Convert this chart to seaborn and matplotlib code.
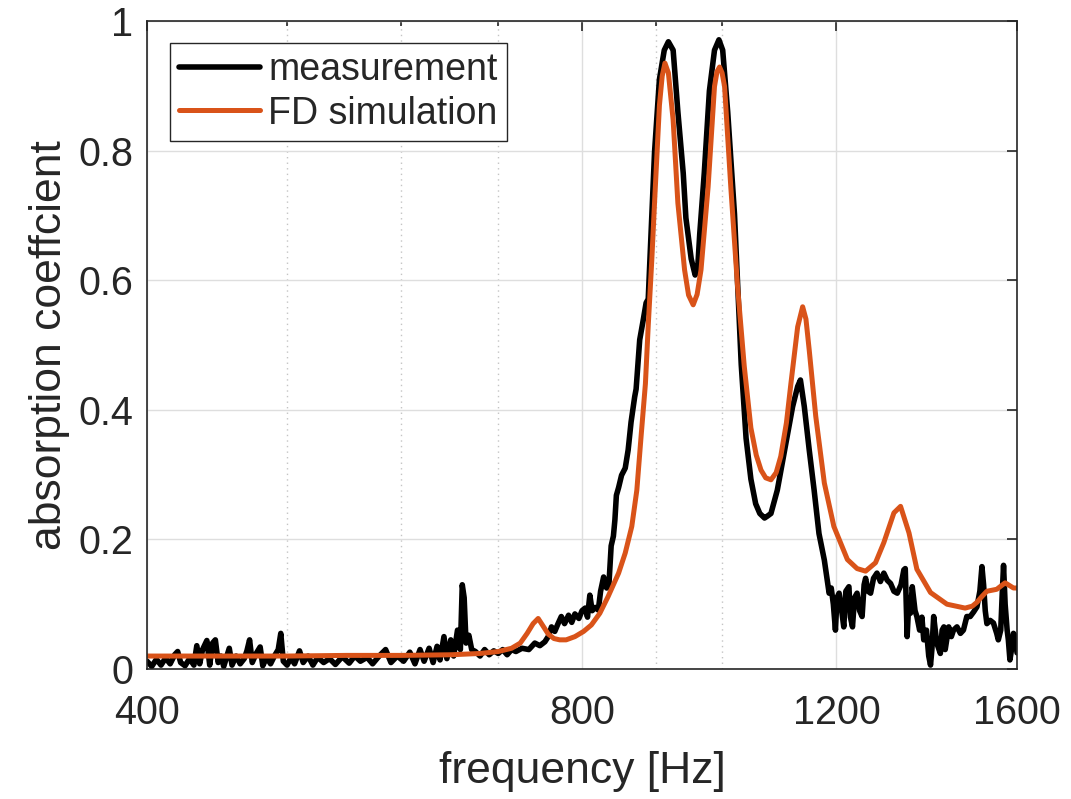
import matplotlib
matplotlib.use("Agg")
import matplotlib.pyplot as plt
import matplotlib.ticker as mticker
import seaborn as sns
import pandas as pd

meas_freq = [400, 403, 406, 409, 412, 415, 418, 420, 422, 425, 428, 431, 433, 435, 437,
             440, 442, 444, 446, 448, 450, 452, 454, 456, 458, 461, 464, 467, 469, 471,
             473, 476, 479, 481, 484, 487, 490, 493, 495, 497, 500, 503, 506, 510, 513,
             517, 521, 525, 530, 535, 540, 546, 552, 557, 562, 568, 573, 579, 585, 590,
             596, 602, 608, 613, 618, 622, 627, 631, 635, 638, 642, 645, 649, 652, 656,
             659, 661, 663, 665, 668, 671, 675, 680, 685, 690, 695, 700, 705, 710, 715,
             720, 727, 735, 742, 748, 754, 758, 762, 766, 770, 774, 778, 783, 787, 791,
             796, 800, 804, 807, 810, 813, 817, 821, 824, 828, 832, 835, 838, 841, 843,
             845, 848, 852, 857, 861, 865, 870, 872, 877, 882, 886, 889, 893, 898, 905,
             912, 918, 925, 932, 940, 944, 952, 958, 962, 965, 972, 980, 988, 995, 1001,
             1009, 1020, 1031, 1039, 1047, 1055, 1062, 1070, 1075, 1081, 1092, 1107, 1119, 1128, 1133,
             1140, 1149, 1158, 1167, 1177, 1186, 1190, 1194, 1198, 1201, 1205, 1210, 1214, 1218, 1224,
             1227, 1231, 1235, 1240, 1245, 1250, 1254, 1257, 1262, 1267, 1273, 1280, 1287, 1294, 1301,
             1308, 1315, 1322, 1330, 1336, 1339, 1343, 1347, 1350, 1354, 1360, 1364, 1370, 1375, 1379,
             1385, 1390, 1394, 1397, 1401, 1408, 1416, 1420, 1424, 1427, 1435, 1441, 1446, 1454, 1462,
             1469, 1477, 1485, 1493, 1501, 1508, 1513, 1517, 1521, 1525, 1533, 1541, 1549, 1553, 1559,
             1563, 1566, 1570, 1575, 1578, 1582, 1586, 1591, 1596, 1600]
meas_alpha = [0.012, 0.004, 0.015, 0.006, 0.017, 0.008, 0.022, 0.027, 0.010, 0.005, 0.016, 0.006, 0.036, 0.008, 0.030,
              0.044, 0.006, 0.040, 0.045, 0.010, 0.020, 0.004, 0.018, 0.032, 0.006, 0.020, 0.008, 0.016, 0.028, 0.045,
              0.010, 0.024, 0.034, 0.005, 0.018, 0.008, 0.020, 0.030, 0.055, 0.012, 0.006, 0.017, 0.008, 0.028, 0.010,
              0.020, 0.006, 0.018, 0.010, 0.016, 0.007, 0.019, 0.009, 0.020, 0.012, 0.018, 0.008, 0.020, 0.030, 0.010,
              0.020, 0.012, 0.026, 0.008, 0.030, 0.012, 0.032, 0.010, 0.035, 0.014, 0.050, 0.016, 0.045, 0.020, 0.060,
              0.030, 0.130, 0.110, 0.040, 0.052, 0.030, 0.027, 0.020, 0.030, 0.022, 0.028, 0.024, 0.030, 0.022, 0.030,
              0.027, 0.032, 0.030, 0.040, 0.036, 0.042, 0.050, 0.065, 0.058, 0.070, 0.081, 0.070, 0.083, 0.072, 0.085,
              0.078, 0.090, 0.094, 0.080, 0.114, 0.090, 0.095, 0.091, 0.120, 0.142, 0.125, 0.130, 0.190, 0.205, 0.230,
              0.268, 0.280, 0.299, 0.310, 0.338, 0.381, 0.420, 0.432, 0.508, 0.539, 0.565, 0.571, 0.671, 0.798, 0.910,
              0.955, 0.968, 0.955, 0.860, 0.765, 0.696, 0.633, 0.608, 0.620, 0.671, 0.765, 0.892, 0.955, 0.971, 0.955,
              0.860, 0.702, 0.470, 0.356, 0.293, 0.255, 0.240, 0.233, 0.236, 0.240, 0.276, 0.348, 0.405, 0.436, 0.446,
              0.405, 0.338, 0.276, 0.209, 0.168, 0.117, 0.125, 0.100, 0.060, 0.110, 0.117, 0.090, 0.065, 0.120, 0.127,
              0.080, 0.065, 0.110, 0.117, 0.090, 0.081, 0.130, 0.140, 0.120, 0.117, 0.140, 0.148, 0.135, 0.148, 0.137,
              0.132, 0.120, 0.117, 0.130, 0.153, 0.155, 0.050, 0.110, 0.086, 0.127, 0.090, 0.081, 0.060, 0.080, 0.045,
              0.060, 0.020, 0.006, 0.030, 0.081, 0.040, 0.024, 0.060, 0.065, 0.030, 0.065, 0.050, 0.060, 0.065, 0.055,
              0.060, 0.081, 0.081, 0.088, 0.096, 0.120, 0.158, 0.130, 0.090, 0.070, 0.075, 0.071, 0.055, 0.045, 0.060,
              0.120, 0.160, 0.100, 0.060, 0.045, 0.014, 0.030, 0.055, 0.050, 0.025]

# FD simulation
sim_freq = [400, 450, 500, 550, 600, 650, 680, 700, 715, 725, 733, 740, 746, 752, 758, 765, 772, 780, 791, 802,
            812, 823, 834, 848, 857, 866, 873, 879, 885, 889, 894, 898, 905, 909, 913, 918, 925, 932, 942, 948,
            955, 961, 967, 978, 988, 992, 996, 1000, 1004, 1014, 1025, 1036, 1047, 1056, 1064, 1072, 1081, 1090, 1098, 1108,
            1116, 1128, 1137, 1143, 1149, 1161, 1177, 1195, 1221, 1240, 1257, 1277, 1294, 1315, 1329, 1347, 1364, 1394, 1431, 1473,
            1490, 1501, 1513, 1525, 1549, 1570, 1591, 1600]
sim_alpha = [0.020, 0.020, 0.020, 0.021, 0.021, 0.022, 0.024, 0.027, 0.032, 0.040, 0.055, 0.070, 0.078, 0.066, 0.054, 0.047, 0.045, 0.045, 0.050, 0.058,
             0.068, 0.086, 0.112, 0.148, 0.179, 0.220, 0.276, 0.360, 0.440, 0.530, 0.630, 0.720, 0.870, 0.915, 0.935, 0.920, 0.847, 0.719, 0.616, 0.577,
             0.562, 0.578, 0.616, 0.744, 0.899, 0.922, 0.929, 0.920, 0.899, 0.744, 0.590, 0.467, 0.372, 0.330, 0.307, 0.295, 0.292, 0.303, 0.328, 0.380,
             0.441, 0.528, 0.559, 0.540, 0.492, 0.390, 0.287, 0.220, 0.169, 0.155, 0.151, 0.164, 0.195, 0.241, 0.251, 0.210, 0.154, 0.118, 0.100, 0.094,
             0.097, 0.103, 0.112, 0.120, 0.123, 0.133, 0.125, 0.125]

x_ticks = [400, 800, 1200, 1600]
x_minor = [500, 600, 700, 900, 1000]
y_ticks = [0, 0.2, 0.4, 0.6, 0.8, 1]
y_labels = ["0", "0.2", "0.4", "0.6", "0.8", "1"]

df_meas = pd.DataFrame({"f": meas_freq, "a": meas_alpha})
df_sim = pd.DataFrame({"f": sim_freq, "a": sim_alpha})

sns.set_style("white")
plt.rcParams["font.family"] = ["Liberation Sans", "DejaVu Sans"]
dark = "#262626"

fig = plt.figure(figsize=(10.71, 7.99), dpi=100)
ax = fig.add_axes([0.1373, 0.1627, 0.8123, 0.811])

sns.lineplot(data=df_meas, x="f", y="a", ax=ax, color="black", linewidth=4.0,
             estimator=None, label="measurement")
sns.lineplot(data=df_sim, x="f", y="a", ax=ax, color="#D95319", linewidth=3.6,
             estimator=None, label="FD simulation")

ax.set_xscale("log")
ax.set_xlim(400, 1600)
ax.set_ylim(0, 1)
ax.xaxis.set_major_locator(mticker.FixedLocator(x_ticks))
ax.xaxis.set_major_formatter(mticker.FixedFormatter([str(t) for t in x_ticks]))
ax.xaxis.set_minor_locator(mticker.FixedLocator(x_minor))
ax.xaxis.set_minor_formatter(mticker.NullFormatter())
ax.set_yticks(y_ticks)
ax.set_yticklabels(y_labels)

ax.grid(which="major", color="#dedede", linewidth=1.0, linestyle="-")
ax.grid(which="minor", axis="x", color="#c4c4c4", linewidth=1.0, linestyle=(0, (1, 3)))
ax.set_axisbelow(True)

for s in ax.spines.values():
    s.set_visible(True)
    s.set_color(dark)
    s.set_linewidth(1.2)

ax.tick_params(which="both", direction="in", top=True, right=True, color=dark,
               labelcolor=dark, labelsize=28.5, width=1.2)
ax.tick_params(which="major", length=7)
ax.tick_params(which="minor", length=3.5)
ax.tick_params(axis="x", pad=18)
ax.tick_params(axis="y", pad=10)

ax.set_xlabel("frequency [Hz]", fontsize=32, color=dark, labelpad=14)
ax.set_ylabel("absorption coeffcient", fontsize=32, color=dark, labelpad=6)

leg = ax.legend(loc="upper left", bbox_to_anchor=(0.0264, 0.9665), borderaxespad=0,
                fontsize=27, handlelength=2.15, handletextpad=0.22, labelspacing=0.2,
                borderpad=0.25, fancybox=False, framealpha=1)
leg.get_frame().set_edgecolor(dark)
leg.get_frame().set_linewidth(1.0)

fig.savefig("out.png", dpi=100)
